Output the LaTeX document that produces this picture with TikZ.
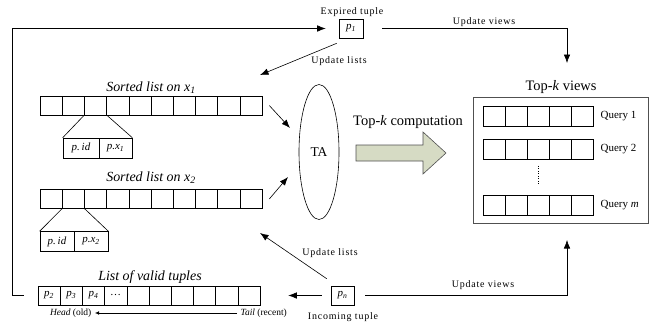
\documentclass[tikz,border=0pt]{standalone}
\usepackage{fontspec}
\setmainfont{Liberation Serif}
\newfontfamily\spacedfont[LetterSpace=8]{Liberation Serif}
\usetikzlibrary{arrows,arrows.meta,shapes}
\definecolor{arrowfill}{RGB}{214,219,196}
\definecolor{boxline}{RGB}{80,80,80}
\newcommand{\tvar}[2]{\textit{#1}\textsubscript{\textit{#2}}}
\newcommand{\tsize}[1]{\fontsize{#1}{#1}\selectfont}

\begin{document}
\begin{tikzpicture}[>={Latex[length=8.5bp,width=6.5bp]}, x=1bp, y=1bp, line width=0.6bp]
  \tikzstyle{every node}=[font=\tsize{11}]
  \tikzstyle{cell}=[draw, inner sep=0pt, minimum width=22.2bp, minimum height=19bp]
  \tikzstyle{tuple}=[draw, inner sep=0pt, minimum width=24bp, minimum height=19bp]
  \tikzstyle{title}=[font=\tsize{14}\itshape]
  \tikzstyle{big}=[font=\tsize{14.5}]
  \tikzstyle{small}=[font=\spacedfont\tsize{10}]
  \useasboundingbox (0,0) rectangle (656,327);
  %%
  \foreach \i in {1,...,10} {
    \node (la\i) at ({28.9+22.2*\i},221.5) [cell] {};
    \node (lb\i) at ({28.9+22.2*\i},128) [cell] {};
  }
  \foreach \i/\t in {1/\tvar{p}{2},2/\tvar{p}{3},3/\tvar{p}{4},4/{\ldots},5/,6/,7/,8/,9/,10/} {
    \node (lv\i) at ({26.9+22.2*\i},31.5) [cell] {\t};
  }
  \node (ta) at (151,239) [title] {Sorted list on \tvar{x}{1}};
  \node (tb) at (151,149) [title] {Sorted list on \tvar{x}{2}};
  \node (tv) at (150,50) [title] {List of valid tuples};
  %%
  \node (da1) at (81,179) [cell, minimum width=36bp, minimum height=20bp] {\textit{p.\,id}};
  \node (db1) at (115.5,179) [cell, minimum width=33bp, minimum height=20bp] {\tvar{p.x}{1}};
  \draw (la3.south west) -- (da1.north west);
  \draw (la3.south east) -- (db1.north east);
  \node (da2) at (57,85.5) [cell, minimum width=34bp, minimum height=20bp] {\textit{p.\,id}};
  \node (db2) at (91,85.5) [cell, minimum width=34bp, minimum height=20bp] {\tvar{p.x}{2}};
  \draw (lb2.south west) -- (da2.north west);
  \draw (lb2.south east) -- (db2.north east);
  %%
  \node (head) at (95,14) [anchor=east, font=\tsize{9.5}] {\textit{Head} (old)};
  \node (tail) at (237,14) [anchor=west, font=\tsize{9.5}] {\textit{Tail} (recent)};
  \draw [-{Latex[length=4bp,width=3.5bp]}, line width=0.5bp] (tail) -- (head);
  %%
  \node (alg) at (319,175) [ellipse, draw, inner sep=0pt, minimum width=40bp, minimum height=135bp, font=\tsize{13.5}] {TA};
  \coordinate (alga) at (290,199);
  \coordinate (algb) at (288,150);
  \draw [->] ([xshift=7bp]la10.east) -- (alga);
  \draw [->] ([xshift=7bp]lb10.east) -- (algb);
  %%
  \draw [draw=boxline, fill=arrowfill] (356,182) -- (423,182) -- (423,195) -- (446,174)
    -- (423,153) -- (423,166) -- (356,166) -- cycle;
  \node (comp) at (408,205) [big] {Top-\textit{k} computation};
  %%
  \node (views) at (560.5,167) [draw=boxline, inner sep=0pt, minimum width=175bp, minimum height=126bp] {};
  \node (vlabel) at (561,240) [big] {Top-\textit{k} views};
  \foreach \r/\y/\q in {a/210.5/1, b/177.5/2, m/122/{\textit{m}}} {
    \foreach \i in {1,...,5} {
      \node (q\r\i) at ({472+22*\i},\y) [cell, minimum width=22bp, minimum height=20bp] {};
    }
    \node (ql\r) at (597,\y) [anchor=west] {Query \q};
  }
  \draw [dash pattern=on 1bp off 1.5bp] ([yshift=-6bp]qb3.south) -- ([yshift=10bp]qm3.north);
  %%
  \node (p1) at (351,298.5) [tuple] {\tvar{p}{1}};
  \node (exp) at (352,315) [small] {Expired tuple};
  \node (pn) at (342.5,31.5) [tuple, minimum width=23bp] {\tvar{p}{n}};
  \node (inc) at (343,10) [small] {Incoming tuple};
  %%
  \draw [->] ([xshift=-14bp]lv1.west) -- ++(-11,0) |- ([xshift=-13bp]p1.west);
  \coordinate (vt) at (567,264);
  \draw [->] ([xshift=19bp]p1.east) -| (vt);
  \node (uvt) at (484,305) [small] {Update views};
  \coordinate (ula) at (260,252);
  \draw [->] ([shift={(-2bp,-5bp)}]p1.south west) -- (ula);
  \node (ult) at (339,266) [small] {Update lists};
  %%
  \coordinate (ulb) at (260,94);
  \draw [->] ([shift={(-4bp,7bp)}]pn.north west) -- (ulb);
  \node (ulbl) at (330,74) [small] {Update lists};
  \draw [->] ([xshift=-9bp]pn.west) -- ([xshift=28bp]lv10.east);
  \coordinate (vb) at (567,87);
  \draw [->] ([xshift=11bp]pn.east) -| (vb);
  \node (uvb) at (483,42) [small] {Update views};
\end{tikzpicture}
\end{document}
